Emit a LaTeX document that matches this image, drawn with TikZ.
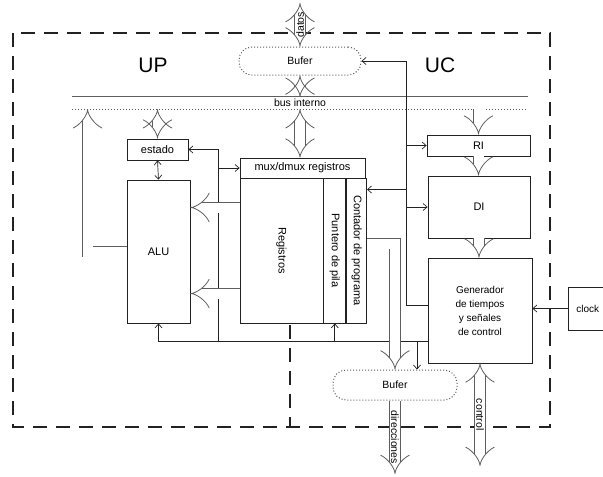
\documentclass[tikz,border=0pt]{standalone}
\usepackage{fontspec}
\setmainfont{Liberation Sans}
\usetikzlibrary{arrows.meta,positioning}
\definecolor{Ink}{HTML}{222222}
\definecolor{Gray}{HTML}{5E5E5E}
\begin{document}
\begin{tikzpicture}[x=1pt,y=-1pt,
    blk/.style={draw=Ink,line width=0.8pt,fill=white,inner sep=0pt,font=\fontsize{11}{13}\selectfont},
    buf/.style={draw=Gray,dotted,line width=1pt,rounded corners=13pt,fill=white,font=\fontsize{10.5}{12}\selectfont},
    fat/.style={draw=Gray,line width=0.8pt,double=white,double distance=10pt,-{Implies[length=6pt,width=20pt]}},
    fat2/.style={fat,{Implies[length=6pt,width=20pt]}-{Implies[length=6pt,width=20pt]}},
    ln/.style={draw=Ink,line width=0.7pt,-{Straight Barb[length=4pt,width=7pt]}},
    zone/.style={draw=Ink,line width=1.2pt,dash pattern=on 14pt off 9pt},
    lbl/.style={font=\fontsize{10.5}{12}\selectfont,inner sep=0pt}
  ]
    \useasboundingbox (0,0) rectangle (603,477);
    % zonas UP / UC
    \draw[zone] (13,33) rectangle (550,427);
    \draw[zone] (290,325) -- (290,427);
    \node[font=\fontsize{21}{24}\selectfont] (up) at (153,65) {UP};
    \node[font=\fontsize{21}{24}\selectfont] (uc) at (440,65) {UC};

    \node[buf,minimum width=122,minimum height=28] (dbuf) at (300,61) {Bufer};
    \node[lbl,minimum width=455,minimum height=12] (bus) at (300,103) {bus interno};
    \draw[Gray,line width=1.3pt] (bus.north west) -- (bus.north east);
    \draw[Gray,dotted,line width=1pt] (bus.south west) -- (bus.south east);

    \node[blk,minimum width=61,minimum height=21] (estado) at (157.5,149.5) {estado};
    \node[blk,minimum width=63,minimum height=143] (alu) at (158.5,251.5) {ALU};
    \node[blk,minimum width=125,minimum height=20] (mux) at (302.5,168) {mux/dmux registros};
    \node[blk,minimum width=83,minimum height=145] (reg) at (281.5,250.5) {\rotatebox{-90}{Registros}};
    \node[blk,minimum width=22,minimum height=145,right=0pt of reg] (pila) {\rotatebox{-90}{Puntero de pila}};
    \node[blk,minimum width=20,minimum height=145,right=0pt of pila] (pc) {\rotatebox{-90}{Contador de programa}};

    \node[blk,minimum width=103,minimum height=21] (ri) at (478.5,145.5) {RI};
    \node[blk,minimum width=102,minimum height=62] (di) at (479,207) {DI};
    \node[blk,minimum width=104,minimum height=105,align=center,font=\fontsize{10}{14}\selectfont] (gen) at (480,310.5) {Generador\\de tiempos\\y señales\\de control};
    \node[blk,anchor=west,minimum height=43,inner xsep=8pt,font=\fontsize{10}{12}\selectfont] (clock) at (568,308.5) {clock};
    \node[buf,minimum width=124,minimum height=30] (abuf) at (395,385) {Bufer};

    \coordinate (dtop) at (300,3);
    \coordinate (dirend) at (395,474);
    \coordinate (ctlend) at (480,466);
    \coordinate (cr) at (406,60);
    \path ([yshift=-31]gen.west) ++(-209,0) coordinate (cl);

    % señales de control
    \draw[ln] ([yshift=5]gen.west) -| (cr |- dbuf.east) -- (dbuf.east);
    \draw[ln] (cr |- ri.west) -- (ri.west);
    \draw[ln] ([yshift=61]pc.east -| cr) -- ([yshift=61]pc.east);
    \draw[ln] (cr |- di.west) -- (di.west);
    \draw[ln] ([yshift=-31]gen.west) -| (alu.south);
    \draw[ln] (cl) |- (estado.east);
    \draw[ln] (cl |- mux.west) -- (mux.west);
    \draw[ln] (cl -| pila.south) -- (pila.south);
    \draw[ln] ([xshift=22]abuf.north |- cl) -- ([xshift=22]abuf.north);
    \draw[ln] (clock.west) -- (clock.west -| gen.east);
    \draw[ln,{Straight Barb[length=4pt,width=7pt]}-{Straight Barb[length=4pt,width=7pt]}] (estado.south) -- (alu.north);

    % buses
    \draw[fat2] (dtop) -- node[lbl,rotate=90]{datos} (dbuf.north);
    \draw[fat2] (dbuf.south) -- (bus.north -| dbuf.south);
    \draw[fat2] (bus.south -| dbuf.south) -- (mux.north -| dbuf.south);
    \draw[fat2] (bus.south -| estado.north) -- (estado.north);
    \draw[fat] (bus.south -| ri.north) -- (ri.north);
    \draw[fat] (ri.south) -- (di.north -| ri.south);
    \draw[fat] (di.south) -- (gen.north -| di.south);
    \draw[fat2] (gen.south) -- node[lbl,rotate=-90]{control} (ctlend);
    \draw[fat] (abuf.south) -- node[lbl,rotate=-90]{direcciones} (dirend);
    \draw[fat] (alu.west) -| ([xshift=-39]alu.west |- bus.south);
    \draw[fat] ([yshift=43]reg.west) -- ([yshift=43]reg.west -| alu.east);
    \draw[fat] ([yshift=-43]reg.west) -- ([yshift=-43]reg.west -| alu.east);
    \draw[fat] ([yshift=7]pc.east) -| (abuf.north);
\end{tikzpicture}
\end{document}
